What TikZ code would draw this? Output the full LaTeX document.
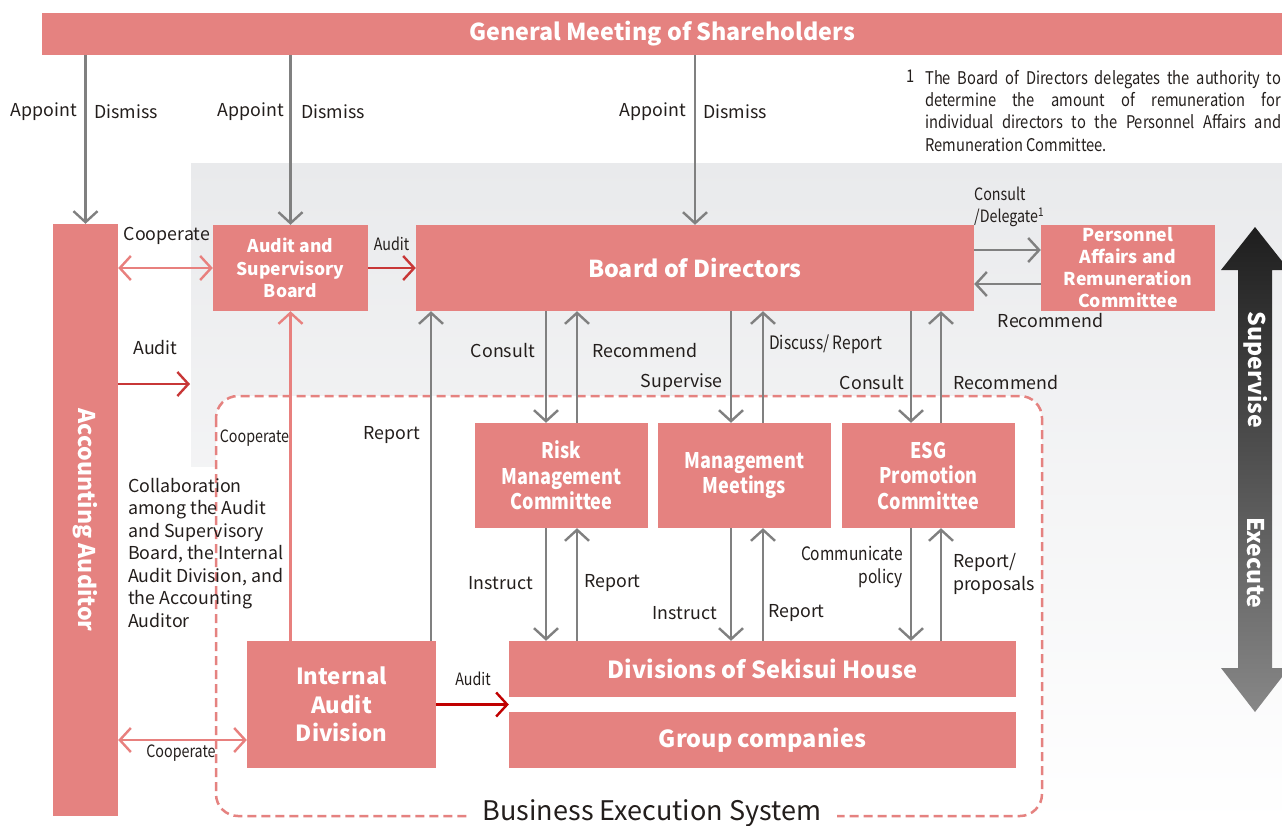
\documentclass[tikz,border=0pt]{standalone}
\usepackage{fontspec}
\setmainfont{Noto Sans CJK JP}
\newfontfamily\narrowfont[FakeStretch=0.84]{Noto Sans CJK JP}
\usetikzlibrary{arrows.meta,calc,positioning}
\definecolor{boxpink}{RGB}{229,130,128}
\definecolor{cooppink}{RGB}{232,128,126}
\definecolor{auditred}{RGB}{200,55,55}
\definecolor{darkred}{RGB}{192,0,0}
\definecolor{arrowgray}{RGB}{128,128,128}
\definecolor{bggray}{RGB}{233,234,236}
\definecolor{labelblack}{RGB}{35,30,28}
\definecolor{superdark}{RGB}{30,30,30}
\definecolor{executegray}{RGB}{135,135,135}

\tikzset{
  orgbox/.style={fill=boxpink, text=white, align=center, inner sep=0pt,
    font=\bfseries\fontsize{20}{22.5}\selectfont},
  lbl/.style={text=labelblack, inner sep=0pt, font=\fontsize{17.8}{22.5}\selectfont},
  nlbl/.style={text=labelblack, inner sep=0pt, font=\narrowfont\fontsize{17}{22.5}\selectfont},
  tip/.style={-{Straight Barb[length=11pt,width=24pt]}},
  garr/.style={draw=arrowgray, line width=2.4pt, tip},
  parr/.style={draw=cooppink, line width=2.4pt, tip},
  pdarr/.style={draw=cooppink, line width=2.4pt,
    {Straight Barb[length=11pt,width=24pt]}-{Straight Barb[length=11pt,width=24pt]}},
  rarr/.style={draw=auditred, line width=2.4pt, tip},
  dashbox/.style={draw=boxpink, line width=2.5pt, dash pattern=on 9pt off 5pt,
    rounded corners=22pt, fill=white}
}

\begin{document}
\begin{tikzpicture}[x=1pt,y=-1pt]
  \useasboundingbox (0,0) rectangle (1282,825);
  % background of the supervising side
  \shade[top color=bggray, bottom color=white] (191,163) rectangle (1282,825);
  \fill[white] (118,467) rectangle (216,825);
  \draw[dashbox] (216,396) rectangle (1042,816);
  \node[lbl, fill=white, inner xsep=16pt, inner ysep=2pt, font=\fontsize{27}{30}\selectfont]
    (bes) at (652,813) {Business Execution System};

  % supervise / execute
  \shade[top color=superdark, bottom color=executegray]
    (1255,227) -- (1289,270) -- (1272,270) -- (1272,668) -- (1289,668) -- (1255,712)
    -- (1221,668) -- (1238,668) -- (1238,270) -- (1221,270) -- cycle;
  \node[text=white, font=\bfseries\fontsize{23}{26}\selectfont, rotate=-90] (sup) at (1256,370) {Supervise};
  \node[text=white, font=\bfseries\fontsize{23}{26}\selectfont, rotate=-90] (exe) at (1256,563) {Execute};

  % boxes
  \node[orgbox, minimum width=1240pt, minimum height=42pt, font=\bfseries\fontsize{23.3}{25}\selectfont]
    (gm) at (662,34) {General Meeting of Shareholders};
  \node[orgbox, minimum width=65pt, minimum height=592pt, font=\bfseries\fontsize{23}{25}\selectfont]
    (acc) at (85.5,520) {\rotatebox{-90}{Accounting Auditor}};
  \node[orgbox, minimum width=155pt, minimum height=86pt, font=\bfseries\fontsize{17.5}{22.5}\selectfont]
    (asb) at (290.5,268) {Audit and\\Supervisory\\Board};
  \node[orgbox, minimum width=558pt, minimum height=86pt, font=\bfseries\fontsize{23.3}{25}\selectfont]
    (bod) at (695,268) {Board of Directors};
  \node[orgbox, minimum width=174pt, minimum height=86pt, font=\bfseries\fontsize{17.7}{22}\selectfont]
    (parc) at (1128,268) {Personnel\\Affairs and\\Remuneration\\Committee};
  \node[orgbox, minimum width=173pt, minimum height=105pt, font=\narrowfont\bfseries\fontsize{21.5}{25.5}\selectfont]
    (rmc) at (561.5,475.5) {Risk\\Management\\Committee};
  \node[orgbox, minimum width=173pt, minimum height=105pt, font=\narrowfont\bfseries\fontsize{21.5}{25.5}\selectfont]
    (mm) at (744.5,475.5) {Management\\Meetings};
  \node[orgbox, minimum width=173pt, minimum height=105pt, font=\narrowfont\bfseries\fontsize{21.5}{25.5}\selectfont]
    (esg) at (928.5,475.5) {ESG\\Promotion\\Committee};
  \node[orgbox, minimum width=189pt, minimum height=127pt, font=\bfseries\fontsize{22.2}{28.5}\selectfont]
    (iad) at (341.5,704.5) {Internal\\Audit\\Division};
  \node[orgbox, minimum width=507pt, minimum height=56pt, font=\bfseries\fontsize{23.5}{26}\selectfont]
    (div) at (762.5,669) {Divisions of Sekisui House};
  \node[orgbox, minimum width=507pt, minimum height=56pt, font=\bfseries\fontsize{23.5}{26}\selectfont]
    (grp) at (762.5,740) {Group companies};

  % helper coordinates
  \coordinate (accaudit) at (190,384);
  \coordinate (ycoop) at (0,740);
  \coordinate (ydel) at (0,250);
  \coordinate (yrec) at (0,284);
  \coordinate (xrep) at (431,0);
  \coordinate (xa1) at (546,0);
  \coordinate (xa2) at (577,0);
  \coordinate (xb1) at (731,0);
  \coordinate (xb2) at (763,0);
  \coordinate (xc1) at (911,0);
  \coordinate (xc2) at (941,0);

  % connectors
  \draw[garr] (gm.south -| acc.north) -- (acc.north);
  \draw[garr] (gm.south -| asb.north) -- (asb.north);
  \draw[garr] (gm.south -| bod.north) -- (bod.north);
  \draw[pdarr] (acc.east |- asb.west) -- (asb.west);
  \draw[rarr] (asb.east) -- (bod.west);
  \draw[rarr] (acc.east |- accaudit) -- (accaudit);
  \draw[parr] (iad.north -| asb.south) -- (asb.south);
  \draw[garr] (iad.north -| xrep) -- (bod.south -| xrep);
  \draw[pdarr] (acc.east |- ycoop) -- (iad.west |- ycoop);
  \draw[draw=darkred, line width=2.4pt, tip] (iad.east) -- (iad.east -| div.west);
  \draw[garr] (bod.east |- ydel) -- (parc.west |- ydel);
  \draw[garr] (parc.west |- yrec) -- (bod.east |- yrec);
  \draw[garr] (bod.south -| xa1) -- (rmc.north -| xa1);
  \draw[garr] (rmc.north -| xa2) -- (bod.south -| xa2);
  \draw[garr] (bod.south -| xb1) -- (mm.north -| xb1);
  \draw[garr] (mm.north -| xb2) -- (bod.south -| xb2);
  \draw[garr] (bod.south -| xc1) -- (esg.north -| xc1);
  \draw[garr] (esg.north -| xc2) -- (bod.south -| xc2);
  \draw[garr] (rmc.south -| xa1) -- (div.north -| xa1);
  \draw[garr] (div.north -| xa2) -- (rmc.south -| xa2);
  \draw[garr] (mm.south -| xb1) -- (div.north -| xb1);
  \draw[garr] (div.north -| xb2) -- (mm.south -| xb2);
  \draw[garr] (esg.south -| xc1) -- (div.north -| xc1);
  \draw[garr] (div.north -| xc2) -- (esg.south -| xc2);

  % labels
  \node[lbl, anchor=east] (ap1) at (77,112) {Appoint};
  \node[lbl, anchor=west] (di1) at (94,112) {Dismiss};
  \node[lbl, anchor=east] (ap2) at (284,112) {Appoint};
  \node[lbl, anchor=west] (di2) at (301,112) {Dismiss};
  \node[lbl, anchor=east] (ap3) at (686,112) {Appoint};
  \node[lbl, anchor=west] (di3) at (703,112) {Dismiss};
  \node[lbl] (coop1) at (167,236) {Cooperate};
  \node[nlbl] (aud1) at (391.5,244) {Audit};
  \node[lbl] (aud2) at (155.5,348) {Audit};
  \node[nlbl] (coop2) at (254.5,438) {Cooperate};
  \node[lbl] (rep1) at (391.5,435) {Report};
  \node[nlbl] (coop3) at (181,753) {Cooperate};
  \node[nlbl] (aud3) at (473,679) {Audit};
  \node[lbl, anchor=north west, align=left] (collab) at (128,478)
    {Collaboration\\among the Audit\\and Supervisory\\Board, the Internal\\Audit Division, and\\the Accounting\\Auditor};
  \node[nlbl, anchor=west, align=left] (del) at (974,207) {Consult\\/Delegate\textsuperscript{1}};
  \node[lbl] (rec1) at (1050.5,321) {Recommend};
  \node[lbl, anchor=east] (con1) at (535,351) {Consult};
  \node[lbl, anchor=west] (rec2) at (592,351) {Recommend};
  \node[lbl, anchor=east] (supv) at (723,383) {Supervise};
  \node[nlbl, anchor=west, font=\narrowfont\fontsize{18.5}{22.5}\selectfont] (disc) at (769,344) {Discuss/ Report};
  \node[lbl, anchor=east] (con2) at (904,383) {Consult};
  \node[lbl, anchor=west] (rec3) at (953,383) {Recommend};
  \node[lbl, anchor=east] (ins1) at (533,583) {Instruct};
  \node[lbl, anchor=west] (rep2) at (584,583) {Report};
  \node[lbl, anchor=east] (ins2) at (717,613) {Instruct};
  \node[lbl, anchor=west] (rep3) at (768,613) {Report};
  \node[nlbl, anchor=east, align=right, font=\narrowfont\fontsize{18.5}{22.5}\selectfont] (comm) at (903,567) {Communicate\\policy};
  \node[lbl, anchor=west, align=left] (prop) at (953,574) {Report/\\proposals};

  % footnote
  \node[nlbl, anchor=north, font=\narrowfont\fontsize{17.5}{22.3}\selectfont] (fnum) at (911,70) {1};
  \node[nlbl, anchor=north west, text width=356pt, align=justify, font=\narrowfont\fontsize{17.5}{22.3}\selectfont] (fnote) at (925,70)
    {The Board of Directors delegates the authority to\linebreak determine the amount of remuneration for\linebreak individual directors to the Personnel Affairs and\linebreak Remuneration Committee.};
\end{tikzpicture}
\end{document}
